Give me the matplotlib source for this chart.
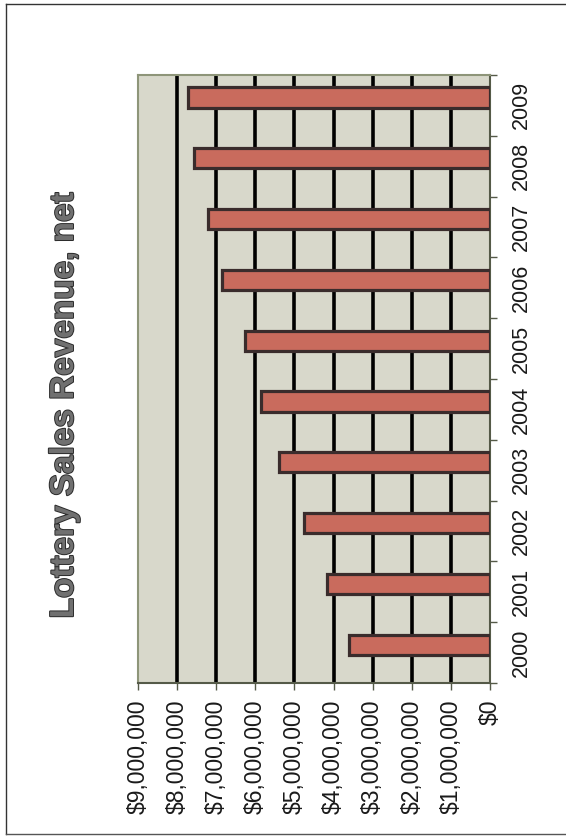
import matplotlib.pyplot as plt
from matplotlib.lines import Line2D
import matplotlib.patheffects as pe
import numpy as np

plt.rcParams['font.family'] = ['Liberation Sans', 'DejaVu Sans']

years = ['2000', '2001', '2002', '2003', '2004', '2005', '2006', '2007', '2008', '2009']
revenue = [3600000, 4170000, 4760000, 5400000, 5860000, 6270000, 6840000, 7220000, 7580000, 7710000]
value_ticks = [0, 1000000, 2000000, 3000000, 4000000, 5000000, 6000000, 7000000, 8000000, 9000000]
title = 'Lottery Sales Revenue, net'

W, H = 566, 839
fig = plt.figure(figsize=(W/100, H/100), dpi=100)
fig.patch.set_facecolor('white')

# plot area in pixels: x 138..490, y 75..683
ax = fig.add_axes([138/W, 1-683/H, (490-138)/W, (683-75)/H])
ax.set_facecolor('#d8d8cb')

ypos = np.arange(len(years))
# bars sit a little off-centre in their bands, as in the scan
ax.barh(ypos + 0.13, revenue, height=0.33, color='#c96b5d', edgecolor='#3a2c2c',
        linewidth=2.3, zorder=3)

for v in value_ticks[1:-1]:
    ax.axvline(v, color='black', linewidth=2.6, zorder=1)

ax.set_xlim(value_ticks[-1], value_ticks[0])
ax.set_ylim(-0.5, len(years)-0.5)

# value axis (bottom)
ax.set_xticks(value_ticks)
ax.set_xticklabels(['${:,.0f}'.format(v) for v in value_ticks], rotation=90,
                   fontsize=16.5, color='#1a1a1a')
ax.tick_params(axis='x', direction='out', length=5, width=1, color='#555a48', pad=7)

# category axis (right)
ax.yaxis.tick_right()
ax.set_yticks(ypos)
ax.set_yticklabels(years, rotation=90, fontsize=15.5, color='#1a1a1a', va='center')
ax.set_yticks(np.arange(-0.5, len(years), 1), minor=True)
ax.tick_params(axis='y', which='major', length=0, pad=15)
ax.tick_params(axis='y', which='minor', direction='out', length=5, width=1, color='#555a48')

for side in ['left', 'top']:
    ax.spines[side].set_color('#8e9579')
    ax.spines[side].set_linewidth(1.5)
for side in ['right', 'bottom']:
    ax.spines[side].set_color('#555a48')
    ax.spines[side].set_linewidth(1.5)

fig.text(73/W, 1-405/H, title, rotation=90, rotation_mode='anchor',
         ha='center', va='baseline', fontsize=24, fontweight='bold', color='#707070',
         path_effects=[pe.withStroke(linewidth=1.4, foreground='#2a2a2a')])

# page edge from the scan
fig.add_artist(Line2D([6/W, 6/W], [1-4/H, 1-834/H], color='#333333', linewidth=1))
fig.add_artist(Line2D([6/W, 1], [1-4/H, 1-4/H], color='#333333', linewidth=1))
fig.add_artist(Line2D([6/W, 1], [1-834/H, 1-834/H], color='#555555', linewidth=1))

fig.savefig('out.png', dpi=100)
